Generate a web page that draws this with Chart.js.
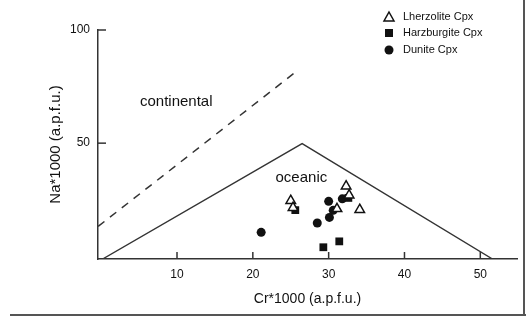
<!DOCTYPE html>
<html>
<head>
<meta charset="utf-8">
<script src="https://cdn.jsdelivr.net/npm/chart.js@4/dist/chart.umd.min.js"></script>
<style>
  html, body { margin: 0; padding: 0; background: #fff; }
  #wrap { width: 526px; height: 317px; }
</style>
</head>
<body>
<div id="wrap"><canvas id="cpxChart"></canvas></div>
<script>
// --- dados ---
const lherzX = [25.0, 25.3, 32.3, 32.7, 31.1, 34.1];
const lherzY = [24.6, 21.5, 31.0, 27.0, 21.0, 20.6];
const harzX = [29.3, 31.4, 32.6, 25.6];
const harzY = [4.0, 6.6, 25.8, 20.4];
const duniteX = [21.1, 28.5, 30.1, 30.6, 30.0, 31.8];
const duniteY = [10.6, 14.7, 17.2, 20.3, 24.3, 25.4];

// campo oceanico (linha solida) e limite continental (tracejada)
const oceanicX = [0.3, 26.5, 51.5];
const oceanicY = [-1.0, 49.8, -1.0];
const contX = [-0.4, 26.0];
const contY = [13.2, 82.4];

const xTicks = [10, 20, 30, 40, 50];
const yTicks = [50, 100];

const seriesLabels = ["Lherzolite Cpx", "Harzburgite Cpx", "Dunite Cpx"];

const pts = (xs, ys) => xs.map((x, i) => ({ x: x, y: ys[i] }));

// ticks para dentro + legenda + moldura
const extrasPlugin = {
  id: "extras",
  afterDraw(chart) {
    const ctx = chart.ctx;
    const xs = chart.scales.x, ys = chart.scales.y;
    const area = chart.chartArea;
    ctx.save();
    ctx.strokeStyle = "#333";
    ctx.lineWidth = 1.5;
    xTicks.forEach(v => {
      const px = xs.getPixelForValue(v);
      ctx.beginPath(); ctx.moveTo(px, area.bottom); ctx.lineTo(px, area.bottom - 7); ctx.stroke();
    });
    yTicks.forEach(v => {
      const py = ys.getPixelForValue(v);
      ctx.beginPath(); ctx.moveTo(area.left, py); ctx.lineTo(area.left + 8, py); ctx.stroke();
    });

    // legenda
    ctx.font = "11px 'Liberation Sans', Arial, sans-serif";
    ctx.textBaseline = "middle";
    ctx.fillStyle = "#111";
    const rows = [17, 33, 50];
    [0, 1, 2].forEach(i => {
      const ds = chart.data.datasets[i];
      const y = rows[i], x = 389;
      ctx.lineWidth = 1.5;
      ctx.strokeStyle = "#111";
      ctx.fillStyle = ds.pointBackgroundColor;
      if (ds.pointStyle === "triangle") {
        ctx.beginPath();
        ctx.moveTo(x, y - 5); ctx.lineTo(x + 5, y + 4); ctx.lineTo(x - 5, y + 4); ctx.closePath();
        ctx.fill(); ctx.stroke();
      } else if (ds.pointStyle === "rect") {
        ctx.fillRect(x - 4, y - 4, 8, 8);
      } else {
        ctx.beginPath(); ctx.arc(x, y, 4.5, 0, Math.PI * 2); ctx.fill();
      }
      ctx.fillStyle = "#111";
      ctx.fillText(ds.label, 403, y);
    });

    // moldura
    ctx.strokeStyle = "#555";
    ctx.lineWidth = 2;
    ctx.beginPath(); ctx.moveTo(524, 0); ctx.lineTo(524, 315); ctx.stroke();
    ctx.beginPath(); ctx.moveTo(10, 315); ctx.lineTo(526, 315); ctx.stroke();

    // rotulos dos campos
    ctx.fillStyle = "#111";
    ctx.font = "15px 'Liberation Sans', Arial, sans-serif";
    ctx.textAlign = "center";
    ctx.fillText("continental", xs.getPixelForValue(9.9), ys.getPixelForValue(68.2));
    ctx.fillText("oceanic", xs.getPixelForValue(26.4), ys.getPixelForValue(34.7));
    ctx.restore();
  }
};

const ctx = document.getElementById("cpxChart").getContext("2d");
new Chart(ctx, {
  type: "scatter",
  data: {
    datasets: [
      {
        label: seriesLabels[0],
        data: pts(lherzX, lherzY),
        pointStyle: "triangle",
        pointRadius: 5.5,
        pointBackgroundColor: "#fff",
        pointBorderColor: "#111",
        pointBorderWidth: 1.5,
        order: 1
      },
      {
        label: seriesLabels[1],
        data: pts(harzX, harzY),
        pointStyle: "rect",
        pointRadius: 5.5,
        pointBackgroundColor: "#111",
        pointBorderColor: "#111",
        pointBorderWidth: 0,
        order: 2
      },
      {
        label: seriesLabels[2],
        data: pts(duniteX, duniteY),
        pointStyle: "circle",
        pointRadius: 4.5,
        pointBackgroundColor: "#111",
        pointBorderColor: "#111",
        pointBorderWidth: 0,
        order: 3
      },
      {
        label: "oceanic",
        data: pts(oceanicX, oceanicY),
        showLine: true,
        borderColor: "#333",
        borderWidth: 1.3,
        pointRadius: 0,
        order: 5
      },
      {
        label: "continental",
        data: pts(contX, contY),
        showLine: true,
        borderColor: "#333",
        borderWidth: 1.5,
        borderDash: [8, 7],
        pointRadius: 0,
        order: 5
      }
    ]
  },
  options: {
    responsive: true,
    maintainAspectRatio: false,
    animation: false,
    layout: { padding: { top: 30, right: 9, left: 0, bottom: 0 } },
    plugins: {
      legend: { display: false },
      tooltip: { enabled: false }
    },
    scales: {
      x: {
        type: "linear",
        min: -0.42,
        max: 54.84,
        afterFit: s => { s.height = 58; },
        afterBuildTicks: s => { s.ticks = xTicks.map(v => ({ value: v })); },
        grid: { display: false },
        border: { display: true, color: "#333", width: 1.5 },
        ticks: {
          padding: 0,
          color: "#111",
          font: { family: "'Liberation Sans', Arial, sans-serif", size: 12 }
        },
        title: {
          display: true,
          text: "Cr*1000 (a.p.f.u.)",
          color: "#111",
          padding: { top: 0, bottom: 9 },
          font: { family: "'Liberation Sans', Arial, sans-serif", size: 14 }
        }
      },
      y: {
        type: "linear",
        min: -1.19,
        max: 100,
        afterFit: s => { s.width = 98; },
        afterBuildTicks: s => { s.ticks = yTicks.map(v => ({ value: v })); },
        grid: { display: false },
        border: { display: true, color: "#333", width: 1.5 },
        ticks: {
          padding: 0,
          color: "#111",
          font: { family: "'Liberation Sans', Arial, sans-serif", size: 12 }
        },
        title: {
          display: true,
          text: "Na*1000 (a.p.f.u.)",
          color: "#111",
          padding: { top: 47, bottom: 0 },
          font: { family: "'Liberation Sans', Arial, sans-serif", size: 15 }
        }
      }
    }
  },
  plugins: [extrasPlugin]
});
</script>
</body>
</html>
